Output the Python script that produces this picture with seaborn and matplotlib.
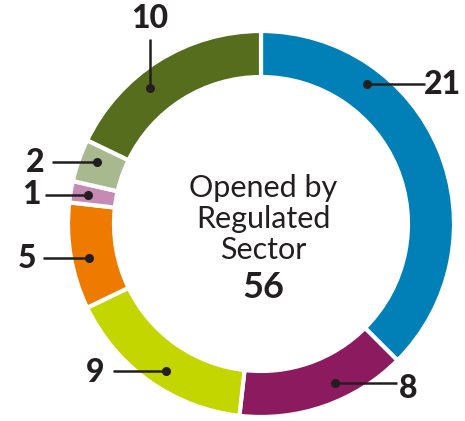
import numpy as np
import matplotlib
matplotlib.use("Agg")
import matplotlib.pyplot as plt
import seaborn as sns

# data, clockwise from 12 o'clock
sectors = ["A", "B", "C", "D", "E", "F", "G"]
counts = [21, 8, 9, 5, 1, 2, 10]
colors = ["#0080B7", "#8C1A5E", "#C4D600", "#EE7B00", "#C68AB4", "#A9B98F", "#576D1E"]
center_lines = ["Opened by", "Regulated", "Sector"]
total = sum(counts)

sns.set_theme(style="white")
plt.rcParams["font.family"] = ["Lato", "DejaVu Sans"]
ink = "#231F20"

W, H = 465, 421
fig = plt.figure(figsize=(W / 100, H / 100), dpi=100)
ax = fig.add_axes([0, 0, 1, 1])

cx, cy = 261, H - 224
r_out, width = 193, 46
wedges, _ = ax.pie(counts, colors=sns.color_palette(colors), startangle=90,
                   counterclock=False, center=(cx, cy), radius=r_out,
                   wedgeprops=dict(width=width, edgecolor="white", linewidth=3))
ax.set_aspect("equal")
ax.set_xlim(0, W)
ax.set_ylim(0, H)
ax.axis("off")

# where the dot sits inside each wedge (fraction of wedge angle from its start)
dot_frac = [0.275, 0.39, 0.46, 0.45, 0.5, 0.61, 0.39]
dot_r = 175
# label text centre (px from top-left) and where the leader line stops
label_pos = [(442, 85), (408, 389), (95, 372), (27, 258), (31, 195), (35, 162), (150, 19)]
line_end = [425, 397, 113, 43, 45, 52, 39]

for w, f, v, (lx, ly), le in zip(wedges, dot_frac, counts, label_pos, line_end):
    # counterclock=False: the wedge starts at theta2
    a = np.deg2rad(w.theta2 - f * (w.theta2 - w.theta1))
    dx, dy = cx + dot_r * np.cos(a), cy + dot_r * np.sin(a)
    if v == 10:
        ax.plot([dx, dx], [dy, H - le], color=ink, lw=1.8, solid_capstyle="butt")
    else:
        ax.plot([dx, le], [dy, dy], color=ink, lw=1.8, solid_capstyle="butt")
    ax.plot(dx, dy, "o", color=ink, ms=5.5)
    ax.text(lx, H - ly, str(v), ha="center", va="center", fontsize=23,
            fontweight="black", color=ink)

for i, line in enumerate(center_lines):
    ax.text(263, H - (188 + 31 * i), line, ha="center", va="center",
            fontsize=22, color=ink)
ax.text(263, H - 287, str(total), ha="center", va="center", fontsize=26,
        fontweight="bold", color=ink)

fig.savefig("out.png", dpi=100)
